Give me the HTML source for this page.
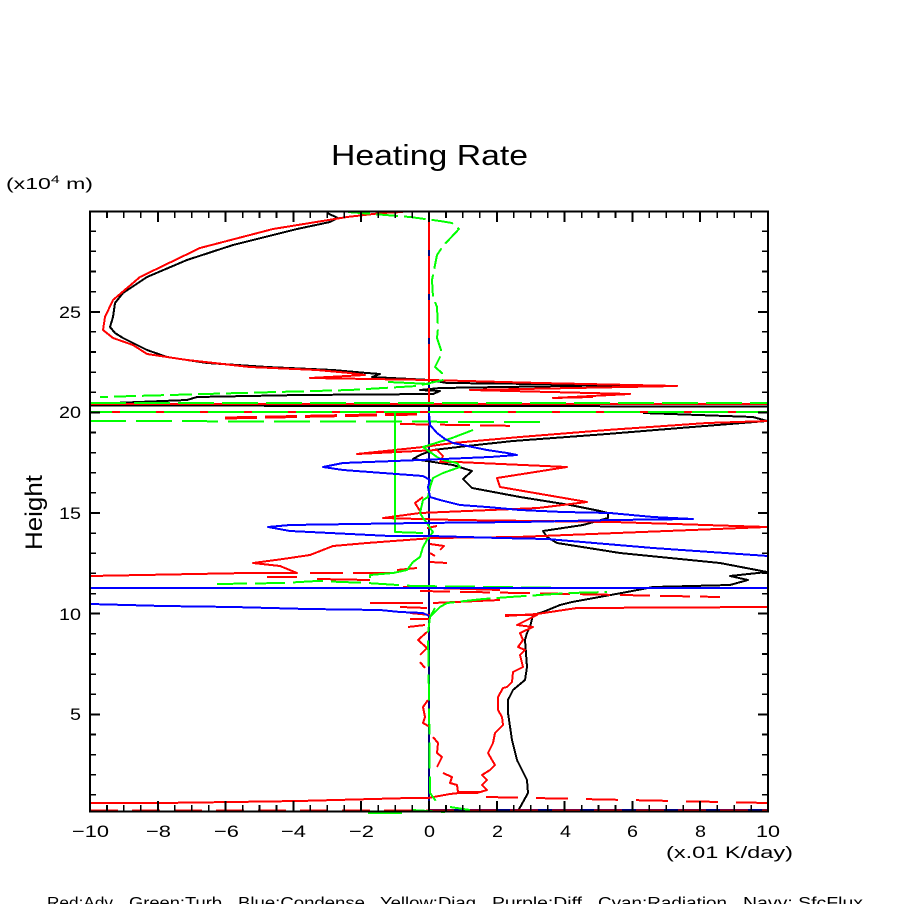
<!DOCTYPE html>
<html><head><meta charset="utf-8"><style>
html,body{margin:0;padding:0;background:#fff;}
svg{display:block;}
text{font-family:"Liberation Sans",sans-serif;fill:#000;}
</style></head><body>
<svg width="904" height="904" viewBox="0 0 904 904" xmlns="http://www.w3.org/2000/svg">
<rect width="904" height="904" fill="#fff"/>

<!-- Title and labels -->
<text x="331" y="165" font-size="29" textLength="197" lengthAdjust="spacingAndGlyphs">Heating Rate</text>
<text x="6" y="189" font-size="16" textLength="87" lengthAdjust="spacingAndGlyphs">(x10<tspan font-size="11" dy="-6">4</tspan><tspan dy="6"> m)</tspan></text>
<text transform="translate(42,550) rotate(-90)" font-size="24" textLength="75" lengthAdjust="spacingAndGlyphs">Height</text>

<!-- Y tick labels -->
<g font-size="17" text-anchor="end">
<text x="81" y="318" textLength="22" lengthAdjust="spacingAndGlyphs">25</text>
<text x="81" y="418" textLength="22" lengthAdjust="spacingAndGlyphs">20</text>
<text x="81" y="519" textLength="22" lengthAdjust="spacingAndGlyphs">15</text>
<text x="81" y="620" textLength="22" lengthAdjust="spacingAndGlyphs">10</text>
<text x="81" y="720" textLength="11" lengthAdjust="spacingAndGlyphs">5</text>
</g>
<!-- X tick labels -->
<g font-size="17">
<text x="72" y="837" textLength="37" lengthAdjust="spacingAndGlyphs">−10</text>
<text x="146" y="837" textLength="25" lengthAdjust="spacingAndGlyphs">−8</text>
<text x="214" y="837" textLength="25" lengthAdjust="spacingAndGlyphs">−6</text>
<text x="281" y="837" textLength="25" lengthAdjust="spacingAndGlyphs">−4</text>
<text x="349" y="837" textLength="25" lengthAdjust="spacingAndGlyphs">−2</text>
<text x="424" y="837" textLength="11" lengthAdjust="spacingAndGlyphs">0</text>
<text x="492" y="837" textLength="11" lengthAdjust="spacingAndGlyphs">2</text>
<text x="560" y="837" textLength="11" lengthAdjust="spacingAndGlyphs">4</text>
<text x="627" y="837" textLength="11" lengthAdjust="spacingAndGlyphs">6</text>
<text x="695" y="837" textLength="11" lengthAdjust="spacingAndGlyphs">8</text>
<text x="756" y="837" textLength="24" lengthAdjust="spacingAndGlyphs">10</text>
</g>
<text x="666" y="858" font-size="17" textLength="127" lengthAdjust="spacingAndGlyphs">(x.01 K/day)</text>

<!-- Legend (cut off at bottom) -->
<g font-size="15.5">
<text x="47" y="908" textLength="66" lengthAdjust="spacingAndGlyphs">Red:Adv</text>
<text x="129" y="908" textLength="93" lengthAdjust="spacingAndGlyphs">Green:Turb</text>
<text x="238" y="908" textLength="127" lengthAdjust="spacingAndGlyphs">Blue:Condense</text>
<text x="380" y="908" textLength="96" lengthAdjust="spacingAndGlyphs">Yellow:Diag</text>
<text x="492" y="908" textLength="90" lengthAdjust="spacingAndGlyphs">Purple:Diff</text>
<text x="598" y="908" textLength="129" lengthAdjust="spacingAndGlyphs">Cyan:Radiation</text>
<text x="743" y="908" textLength="120" lengthAdjust="spacingAndGlyphs">Navy: SfcFlux</text>
</g>

<!-- Data series -->
<g fill="none" stroke-width="2" stroke-linejoin="round" shape-rendering="crispEdges">
<!-- Navy -->
<line x1="429" y1="212" x2="429" y2="811" stroke="#000080"/>
<line x1="429" y1="810" x2="768" y2="810" stroke="#000080"/>

<!-- Black -->
<polyline stroke="#000" points="327,213 338,218 330,222 297,229 233,245 187,260 147,277 123,293 115,303 113,317 110,327 115,333 123,338 147,350 167,357 207,363 267,367 333,370 367,373 380,374 372,377 430,380 447,383 630,385 440,388 420,390 440,391 433,394 300,395 197,397 187,400 90,404"/>
<line x1="90" y1="405.5" x2="768" y2="406.5" stroke="#000"/>
<polyline stroke="#000" points="643,413 753,417 767,421 680,428 607,434 513,441 467,446 433,450 420,455 413,459 420,460 453,465 472,471 463,479 472,488 520,497 570,505 600,511 608,513 608,518 583,525 543,531 547,537 557,543 620,553 720,563 767,572 730,576 748,580 730,585 653,587 627,592 572,602 560,605 543,612 533,615 530,627 527,633 525,640 527,667 525,680 513,690 508,700 508,713 512,740 517,760 527,780 528,793 523,802 518,811"/>

<!-- Red -->
<line x1="429" y1="212" x2="429" y2="405" stroke="#f00" stroke-dasharray="38 6"/>
<polyline stroke="#f00" points="403,212 382,213 347,217 273,229 200,248 140,277 113,300 105,317 103,330 113,338 133,345 147,354 187,360 250,367 317,370 350,373 365,375 310,378 430,380 540,383 677,386 470,390 630,394 553,398 593,397"/>
<line x1="90" y1="404" x2="768" y2="404" stroke="#f00"/>
<line x1="90" y1="412" x2="768" y2="412" stroke="#f00"/>
<line x1="225" y1="418" x2="420" y2="414" stroke="#f00" stroke-width="3" stroke-dasharray="32 8"/>
<line x1="400" y1="424" x2="520" y2="426" stroke="#f00" stroke-dasharray="30 10"/>
<polyline stroke="#f00" points="768,421 707,423 607,430 520,437 453,443 423,447 357,454 437,450 443,456 440,462 457,462 567,467 497,478 500,487 587,502 538,508 420,513 383,518 457,520 613,522 767,527 517,537 433,538 367,543 333,546 310,555 283,559 253,563 280,566 297,573 247,573 90,576"/>
<path stroke="#f00" d="M423,497 L415,503 L420,511 M427,528 L437,526 M430,544 L444,546 L440,550 M430,553 L435,556 M430,562 L447,563 M397,570 L417,568 M267,577 L297,577 M310,573 L343,573 M353,573 L393,573 M317,579 L370,580 M403,587 L500,590"/>
<line x1="420" y1="591" x2="720" y2="597" stroke="#f00" stroke-dasharray="30 10"/>
<path stroke="#f00" d="M370,603 L423,603 M400,607 L427,608 M410,613 L430,615 M410,619 L430,619 M433,603 L500,600"/>
<polyline stroke="#f00" points="768,607 577,608 537,614 505,616"/>
<path stroke="#f00" d="M408,627 L425,625 M427,632 L418,640 L427,648 L420,655 M420,662 L425,668 M428,700 L423,707 L425,717 L423,723 L430,727 M433,737 L438,743 L437,753 L442,757 L437,767 M443,773 L452,777 L450,783 L457,785 L458,792 L480,792"/>
<polyline stroke="#f00" points="505,615 537,615 517,625 533,627 520,633 523,640 518,647 525,650 520,655 523,667 513,672 512,682 507,687 503,688 498,697 498,710 502,717 503,725 495,733 493,743 488,753 492,760 495,765 490,770 482,775 487,780 482,785 487,790 477,793 460,793"/>
<polyline stroke="#f00" points="90,803 160,803 232,802 299,801 410,798 428,798 450,794 468,792 480,792"/>
<line x1="486" y1="797" x2="768" y2="803" stroke="#f00" stroke-dasharray="32 18"/>
<line x1="90" y1="810.5" x2="768" y2="810.5" stroke="#f00" stroke-dasharray="28 14"/>

<!-- Green -->
<polyline stroke="#0f0" stroke-dasharray="22 6" points="348,212 398,216 410,217 440,221 452,223 459,229 443,246 437,255 432,280 433,297 437,307 438,328 437,338 442,353 435,367 442,373 443,380 417,386 350,390 240,393 100,397"/>
<line x1="388" y1="382" x2="430" y2="384" stroke="#0f0"/>
<line x1="90" y1="403" x2="768" y2="403" stroke="#0f0" stroke-dasharray="36 8"/>
<line x1="90" y1="412" x2="768" y2="412" stroke="#0f0" stroke-dasharray="36 8" stroke-dashoffset="14"/>
<line x1="90" y1="421" x2="550" y2="422" stroke="#0f0" stroke-dasharray="36 10"/>
<polyline stroke="#0f0" points="395,413 395,532 423,533"/>
<polyline stroke="#0f0" points="473,430 452,438 423,447 430,452 437,457 443,460 457,463 460,467 443,473 433,478 430,487 428,497 423,500 420,513 423,518 427,523 430,528 433,532 427,540 423,547 420,557 413,562 407,570 393,573 370,575 370,578"/>
<polyline stroke="#0f0" stroke-dasharray="30 8" points="217,584 283,583 317,581 367,583 413,586 500,587 577,588"/>
<polyline stroke="#0f0" stroke-dasharray="30 6" points="430,617 440,607 447,603 483,599 510,597 570,593 607,592"/>
<polyline stroke="#0f0" stroke-dasharray="26 8" points="435,608 430,617 428,633 429,700 430,793 438,804"/>
<path stroke="#0f0" d="M368,813 L402,813 M412,810 L445,812 M450,807 L470,810"/>

<!-- Blue -->
<polyline stroke="#00f" points="429,413 430,425 437,433 445,439 453,443 487,450 507,453 517,455 490,457 420,460 343,463 323,467 343,470 423,476 430,480 428,487 430,497 440,500 460,505 487,507 520,510 563,512 610,513 653,517 693,519 613,520 520,522 420,523 290,525 268,527 290,531 390,536 430,536 500,538 547,539 653,548 768,556"/>
<line x1="90" y1="588" x2="768" y2="588" stroke="#00f"/>
<polyline stroke="#00f" points="90,604 163,606 233,607 307,609 380,610 400,612 423,613 429,616"/>
</g>

<!-- Frame & ticks -->
<rect x="90" y="211.5" width="678" height="600" fill="none" stroke="#000" stroke-width="2" shape-rendering="crispEdges"/>
<g stroke="#000" stroke-width="1.6" fill="none" shape-rendering="crispEdges">
<!-- Y minor ticks left & right -->
<path d="M90,794.9h6M90,774.7h6M90,754.6h6M90,734.5h6M90,694.2h6M90,674.1h6M90,654h6M90,633.8h6M90,593.6h6M90,573.4h6M90,553.3h6M90,533.2h6M90,492.9h6M90,472.8h6M90,452.7h6M90,432.5h6M90,392.3h6M90,372.1h6M90,352h6M90,331.9h6M90,291.6h6M90,271.5h6M90,251.4h6M90,231.2h6"/>
<path d="M768,794.9h-6M768,774.7h-6M768,754.6h-6M768,734.5h-6M768,694.2h-6M768,674.1h-6M768,654h-6M768,633.8h-6M768,593.6h-6M768,573.4h-6M768,553.3h-6M768,533.2h-6M768,492.9h-6M768,472.8h-6M768,452.7h-6M768,432.5h-6M768,392.3h-6M768,372.1h-6M768,352h-6M768,331.9h-6M768,291.6h-6M768,271.5h-6M768,251.4h-6M768,231.2h-6"/>
<!-- Y major -->
<path stroke-width="2" d="M90,714.4h10M90,613.7h10M90,513h10M90,412.4h10M90,311.8h10M768,714.4h-10M768,613.7h-10M768,513h-10M768,412.4h-10M768,311.8h-10"/>
<!-- X major bottom & top -->
<path stroke-width="2" d="M157.8,811v-10M225.6,811v-10M293.4,811v-10M361.2,811v-10M429,811v-10M496.8,811v-10M564.6,811v-10M632.4,811v-10M700.2,811v-10M157.8,212v10M225.6,212v10M293.4,212v10M361.2,212v10M429,212v10M496.8,212v10M564.6,212v10M632.4,212v10M700.2,212v10"/>
<!-- X minor bottom -->
<path d="M106.95,811v-6M123.9,811v-6M140.85,811v-6M174.75,811v-6M191.7,811v-6M208.65,811v-6M242.55,811v-6M259.5,811v-6M276.45,811v-6M310.35,811v-6M327.3,811v-6M344.25,811v-6M378.15,811v-6M395.1,811v-6M412.05,811v-6M445.95,811v-6M462.9,811v-6M479.85,811v-6M513.75,811v-6M530.7,811v-6M547.65,811v-6M581.55,811v-6M598.5,811v-6M615.45,811v-6M649.35,811v-6M666.3,811v-6M683.25,811v-6M717.15,811v-6M734.1,811v-6M751.05,811v-6"/>
<!-- X minor top -->
<path d="M106.95,212v6M123.9,212v6M140.85,212v6M174.75,212v6M191.7,212v6M208.65,212v6M242.55,212v6M259.5,212v6M276.45,212v6M310.35,212v6M327.3,212v6M344.25,212v6M378.15,212v6M395.1,212v6M412.05,212v6M445.95,212v6M462.9,212v6M479.85,212v6M513.75,212v6M530.7,212v6M547.65,212v6M581.55,212v6M598.5,212v6M615.45,212v6M649.35,212v6M666.3,212v6M683.25,212v6M717.15,212v6M734.1,212v6M751.05,212v6"/>
</g>
</svg>
</body></html>
